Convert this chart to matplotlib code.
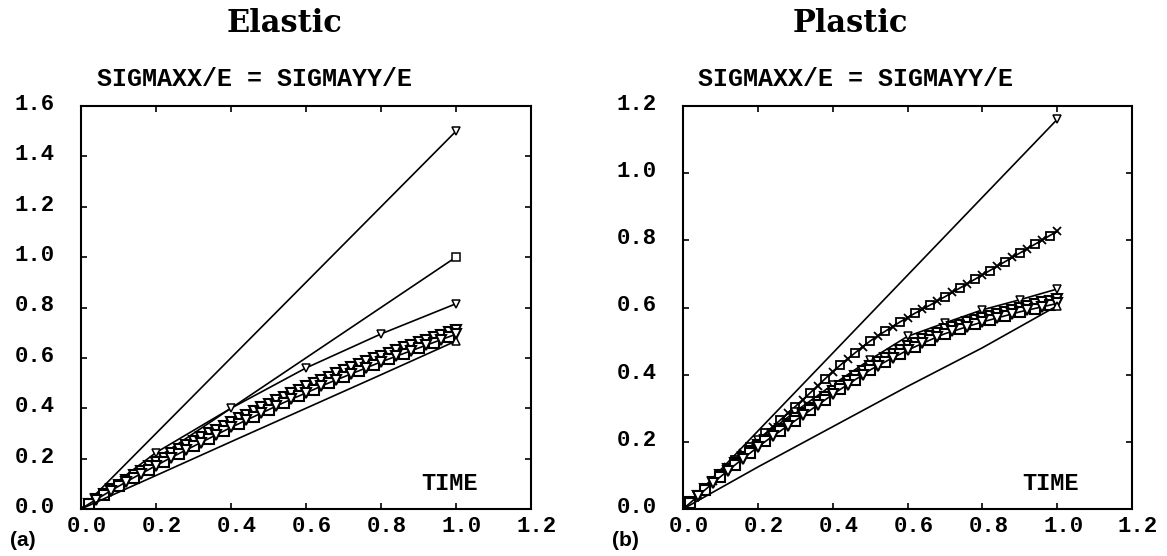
import matplotlib
matplotlib.use("Agg")
import matplotlib.pyplot as plt
import matplotlib.transforms as mtransforms

# ---------------- data ----------------
t_coarse = [0.0, 0.2, 0.4, 0.6, 0.8, 1.0]
t_tenth = [0.0, 0.1, 0.2, 0.3, 0.4, 0.5, 0.6, 0.7, 0.8, 0.9, 1.0]
t_fine = [round(0.02 * i, 2) for i in range(51)]

# Elastic panel
el_top = [0.0, 0.3, 0.6, 0.9, 1.2, 1.5]
el_unit = [0.0, 0.2, 0.4, 0.6, 0.8, 1.0]
el_tri = [0.0, 0.224, 0.40, 0.560, 0.695, 0.815]
el_band1 = [0.000, 0.020, 0.040, 0.059, 0.078, 0.097, 0.116, 0.134, 0.152, 0.170,
            0.187, 0.204, 0.221, 0.237, 0.253, 0.269, 0.285, 0.300, 0.315, 0.330,
            0.345, 0.360, 0.375, 0.390, 0.404, 0.418, 0.432, 0.446, 0.460, 0.474,
            0.487, 0.500, 0.513, 0.526, 0.539, 0.551, 0.563, 0.575, 0.587, 0.598,
            0.609, 0.620, 0.631, 0.642, 0.652, 0.662, 0.672, 0.682, 0.692, 0.702,
            0.712]
el_band2 = [0.000, 0.019, 0.037, 0.055, 0.073, 0.090, 0.107, 0.124, 0.140, 0.156,
            0.172, 0.188, 0.204, 0.219, 0.234, 0.249, 0.264, 0.279, 0.294, 0.309,
            0.324, 0.338, 0.352, 0.366, 0.380, 0.394, 0.408, 0.422, 0.435, 0.448,
            0.461, 0.474, 0.487, 0.500, 0.512, 0.524, 0.536, 0.548, 0.560, 0.572,
            0.584, 0.595, 0.606, 0.617, 0.628, 0.639, 0.650, 0.661, 0.672, 0.683,
            0.694]
el_bottom = [0.0, 0.133, 0.267, 0.40, 0.533, 0.667]

# Plastic panel
pl_top = [0.0, 0.232, 0.464, 0.696, 0.928, 1.16]
pl_sq = [0.000, 0.021, 0.042, 0.063, 0.084, 0.105, 0.125, 0.146, 0.166, 0.186,
         0.205, 0.225, 0.245, 0.265, 0.285, 0.305, 0.325, 0.346, 0.367, 0.388,
         0.409, 0.428, 0.447, 0.465, 0.483, 0.500, 0.515, 0.529, 0.543, 0.557,
         0.570, 0.583, 0.595, 0.607, 0.620, 0.632, 0.645, 0.658, 0.671, 0.684,
         0.697, 0.710, 0.723, 0.736, 0.749, 0.762, 0.775, 0.788, 0.801, 0.814,
         0.827]
pl_tri = [0.0, 0.105, 0.205, 0.29, 0.37, 0.445, 0.514, 0.554, 0.593, 0.623, 0.655]
pl_band1 = [0.000, 0.020, 0.040, 0.060, 0.080, 0.100, 0.118, 0.136, 0.154, 0.172,
            0.190, 0.206, 0.222, 0.238, 0.254, 0.270, 0.286, 0.302, 0.318, 0.334,
            0.350, 0.365, 0.380, 0.395, 0.410, 0.425, 0.437, 0.449, 0.461, 0.473,
            0.485, 0.495, 0.505, 0.515, 0.525, 0.535, 0.542, 0.549, 0.556, 0.563,
            0.570, 0.576, 0.582, 0.588, 0.594, 0.600, 0.605, 0.610, 0.615, 0.620,
            0.625]
pl_band2 = [0.000, 0.019, 0.039, 0.058, 0.077, 0.096, 0.114, 0.132, 0.150, 0.167,
            0.185, 0.201, 0.217, 0.232, 0.248, 0.263, 0.279, 0.294, 0.310, 0.325,
            0.341, 0.356, 0.370, 0.385, 0.399, 0.414, 0.426, 0.438, 0.450, 0.461,
            0.473, 0.483, 0.493, 0.503, 0.513, 0.522, 0.529, 0.536, 0.543, 0.550,
            0.557, 0.563, 0.569, 0.575, 0.581, 0.587, 0.592, 0.597, 0.602, 0.607,
            0.612]
pl_bottom = [0.0, 0.125, 0.245, 0.365, 0.48, 0.605]

x_ticks = [0.0, 0.2, 0.4, 0.6, 0.8, 1.0, 1.2]
el_yticks = [0.0, 0.2, 0.4, 0.6, 0.8, 1.0, 1.2, 1.4, 1.6]
pl_yticks = [0.0, 0.2, 0.4, 0.6, 0.8, 1.0, 1.2]

titles = ["Elastic", "Plastic"]
subtitle = "SIGMAXX/E = SIGMAYY/E"
panel_tags = ["(a)", "(b)"]

# ---------------- figure ----------------
W, H = 1167, 556
fig = plt.figure(figsize=(W / 100, H / 100), dpi=100)
fig.patch.set_facecolor("white")

MONO = ["Liberation Mono", "DejaVu Sans Mono"]

def fx(px):
    return px / W

def fy(py):
    return 1 - py / H

ax_l = fig.add_axes([fx(81), fy(509), 450 / W, 403 / H])
ax_r = fig.add_axes([fx(683), fy(509), 449 / W, 403 / H])

line_kw = dict(color="black", lw=1.2, mfc="white", mec="black", mew=1.1, ms=5.5)
band_kw = dict(line_kw, ms=7, mew=1.5)
sq_kw = dict(line_kw, ms=6, mew=1.3)

# elastic
ax_l.plot(t_coarse, el_top, marker="v", markevery=[5], **line_kw)
ax_l.plot(t_coarse, el_unit, marker="s", markevery=[5], **line_kw)
ax_l.plot(t_coarse, el_tri, marker="v", markevery=slice(1, None), **line_kw)
ax_l.plot(t_fine, el_band1, marker="v", markevery=slice(1, None), **band_kw)
ax_l.plot(t_fine, el_band2, marker="s", markevery=slice(1, None, 2), **band_kw)
ax_l.plot(t_fine, el_band2, marker="v", markevery=slice(2, None, 2), **band_kw)
ax_l.plot(t_coarse, el_bottom, marker="^", markevery=[5], **line_kw)

# plastic
ax_r.plot(t_coarse, pl_top, marker="v", markevery=[5], **line_kw)
ax_r.plot(t_fine, pl_sq, marker="s", markevery=slice(1, None, 2), **sq_kw)
ax_r.plot(t_fine, pl_sq, marker="x", markevery=slice(2, None, 2), **sq_kw)
ax_r.plot(t_tenth, pl_tri, marker="v", markevery=slice(1, None), **line_kw)
ax_r.plot(t_fine, pl_band1, marker="v", markevery=slice(1, None), **band_kw)
ax_r.plot(t_fine, pl_band2, marker="s", markevery=slice(1, None, 2), **band_kw)
ax_r.plot(t_fine, pl_band2, marker="v", markevery=slice(2, None, 2), **band_kw)
ax_r.plot(t_coarse, pl_bottom, marker="^", markevery=[5], **line_kw)

for ax, yt, ylim in [(ax_l, el_yticks, 1.6), (ax_r, pl_yticks, 1.2)]:
    ax.set_xlim(0, 1.2)
    ax.set_ylim(0, ylim)
    ax.set_xticks(x_ticks)
    ax.set_yticks(yt)
    ax.set_xticklabels([f"{v:.1f}" for v in x_ticks])
    ax.set_yticklabels([f"{v:.1f}" for v in yt])
    for s in ax.spines.values():
        s.set_linewidth(1.5)
    ax.tick_params(direction="in", length=4.5, width=1.2, top=True, right=True)
    ax.tick_params(axis="y", pad=19)
    ax.tick_params(axis="x", pad=5)
    for lab in ax.get_xticklabels() + ax.get_yticklabels():
        lab.set_fontfamily(MONO)
        lab.set_fontsize(16)
        lab.set_fontweight("bold")
    off_x = mtransforms.ScaledTranslation(6 / 100, 0, fig.dpi_scale_trans)
    for lab in ax.get_xticklabels():
        lab.set_transform(lab.get_transform() + off_x)
    off_y = mtransforms.ScaledTranslation(0, 4 / 100, fig.dpi_scale_trans)
    for lab in ax.get_yticklabels():
        lab.set_transform(lab.get_transform() + off_y)
    ax.text(0.818, 0.063, "TIME", transform=ax.transAxes, ha="center",
            va="center", family=MONO, fontsize=17, fontweight="bold")

# titles and labels
fig.text(fx(227), fy(32), titles[0], family="DejaVu Serif", fontweight="bold",
         fontsize=22, ha="left", va="baseline")
fig.text(fx(793), fy(32), titles[1], family="DejaVu Serif", fontweight="bold",
         fontsize=22, ha="left", va="baseline")
fig.text(fx(97), fy(79.5), subtitle, family=MONO, fontsize=18,
         fontweight="bold", ha="left", va="center")
fig.text(fx(698), fy(79.5), subtitle, family=MONO, fontsize=18,
         fontweight="bold", ha="left", va="center")
fig.text(fx(10), fy(541), panel_tags[0], family=["Liberation Sans", "DejaVu Sans"],
         fontsize=15, fontweight="bold", ha="left", va="center")
fig.text(fx(612), fy(541), panel_tags[1], family=["Liberation Sans", "DejaVu Sans"],
         fontsize=15, fontweight="bold", ha="left", va="center")

fig.savefig("out.png", dpi=100, facecolor="white")
